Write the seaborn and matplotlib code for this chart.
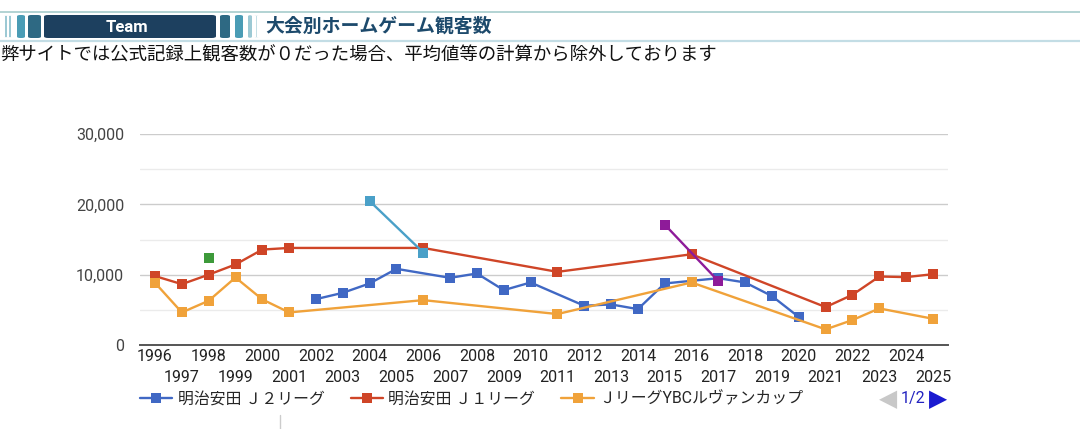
import pandas as pd
import seaborn as sns
from matplotlib import pyplot as plt
from matplotlib.patches import FancyBboxPatch
from matplotlib.lines import Line2D

# 観客数データ
years_j2 = [2002, 2003, 2004, 2005, 2007, 2008, 2009, 2010, 2012, 2013, 2014, 2015, 2017, 2018, 2019, 2020]
att_j2 = [6520, 7420, 8750, 10830, 9550, 10170, 7800, 8890, 5580, 5770, 5100, 8750, 9500, 8890, 6950, 3970]

years_j1 = [1996, 1997, 1998, 1999, 2000, 2001, 2006, 2011, 2016, 2021, 2022, 2023, 2024, 2025]
att_j1 = [9800, 8650, 10000, 11450, 13570, 13800, 13800, 10400, 12900, 5390, 7140, 9740, 9650, 10070]

years_cup = [1996, 1997, 1998, 1999, 2000, 2001, 2006, 2011, 2016, 2021, 2022, 2023, 2025]
att_cup = [8840, 4630, 6290, 9600, 6480, 4630, 6380, 4400, 8890, 2220, 3550, 5200, 3730]

years_green = [1998]
att_green = [12440]

years_cyan = [2004, 2006]
att_cyan = [20470, 13150]

years_purple = [2015, 2017]
att_purple = [17120, 9080]

labels = ['明治安田 Ｊ２リーグ', '明治安田 Ｊ１リーグ', 'ＪリーグYBCルヴァンカップ']
title = '大会別ホームゲーム観客数'
note = '弊サイトでは公式記録上観客数が０だった場合、平均値等の計算から除外しております'

W, H = 1080, 429


def fx(x):
    return x / W


def fy(y):
    return 1 - y / H


if __name__ == '__main__':
    sns.set_style('white')
    plt.rcParams['font.family'] = ['Roboto', 'Noto Sans CJK JP', 'DejaVu Sans']

    fig = plt.figure(figsize=(W / 100, H / 100), dpi=100)

    # ヘッダー
    fig.add_artist(Line2D([0, 1], [fy(12), fy(12)], color='#a6cccc', lw=1.2))
    fig.add_artist(Line2D([0, 1], [fy(41), fy(41)], color='#c3dde5', lw=1.6))
    stripes = [(5, 7, '#9cc9d4'), (9, 11, '#9cc9d4'), (17, 25, '#4a9cb5'), (28, 41, '#2e6983'),
               (220, 230, '#2e6983'), (235, 243, '#4a9cb5'), (248, 252, '#9cc9d4'), (256, 257, '#c5dfe5')]
    for x0, x1, c in stripes:
        fig.add_artist(FancyBboxPatch((fx(x0), fy(38)), fx(x1 - x0), (23 / H),
                                      boxstyle='round,pad=0,rounding_size=0.003',
                                      transform=fig.transFigure, fc=c, ec='none'))
    fig.add_artist(FancyBboxPatch((fx(44), fy(38)), fx(172), 23 / H,
                                  boxstyle='round,pad=0,rounding_size=0.004',
                                  transform=fig.transFigure, fc='#1d405f', ec='none'))
    fig.text(fx(127), fy(27), 'Team', color='white', fontsize=12, fontweight='bold',
             ha='center', va='center')
    fig.text(fx(265), fy(26), title, color='#1d4a6c', fontsize=13.6, fontweight='bold',
             ha='left', va='center')
    fig.text(fx(0), fy(56), note, color='#111111', fontsize=13.25, ha='left', va='center')

    # グラフ本体
    ax = fig.add_axes([fx(140), fy(345), fx(948 - 140), (345 - 134) / H])

    lw = 1.7
    ms = 6.5
    sns.lineplot(x=years_j2, y=att_j2, color='#4068c4', marker='s', markersize=ms,
                 markeredgewidth=0, lw=lw, ax=ax, label=labels[0], clip_on=False)
    sns.lineplot(x=years_j1, y=att_j1, color='#cf4527', marker='s', markersize=ms,
                 markeredgewidth=0, lw=lw, ax=ax, label=labels[1], clip_on=False)
    sns.lineplot(x=years_cup, y=att_cup, color='#f0a23a', marker='s', markersize=ms,
                 markeredgewidth=0, lw=lw, ax=ax, label=labels[2], clip_on=False)
    sns.scatterplot(x=years_green, y=att_green, color='#3d9a3a', marker='s', s=ms ** 2,
                    linewidth=0, ax=ax, label='_nolegend_')
    sns.lineplot(x=years_cyan, y=att_cyan, color='#4aa0c8', marker='s', markersize=ms,
                 markeredgewidth=0, lw=lw, ax=ax, label='_nolegend_', clip_on=False)
    sns.lineplot(x=years_purple, y=att_purple, color='#8e1b99', marker='s', markersize=ms,
                 markeredgewidth=0, lw=lw, ax=ax, label='_nolegend_', clip_on=False)

    ax.set_xlim(1995.44, 2025.56)
    ax.set_ylim(0, 30000)
    ax.set_yticks([0, 10000, 20000, 30000])
    ax.set_yticklabels(['0', '10,000', '20,000', '30,000'])
    ax.set_yticks([5000, 15000, 25000], minor=True)
    ax.set_xticks(list(range(1996, 2026, 2)))
    ax.set_xticks(list(range(1997, 2026, 2)), minor=True)
    ax.set_xticklabels([str(y) for y in range(1996, 2026, 2)])
    ax.set_xticklabels([str(y) for y in range(1997, 2026, 2)], minor=True)
    ax.grid(axis='y', which='major', color='#cccccc', lw=1.0)
    ax.grid(axis='y', which='minor', color='#ebebeb', lw=1.0)
    ax.grid(axis='x', visible=False)
    ax.set_axisbelow(True)
    for s in ['top', 'right', 'left']:
        ax.spines[s].set_visible(False)
    ax.spines['bottom'].set_color('#555555')
    ax.spines['bottom'].set_linewidth(1.4)
    ax.tick_params(axis='y', which='both', length=0, pad=11.5, labelsize=11.5, labelcolor='#444444')
    ax.tick_params(axis='x', which='major', length=0, pad=3, labelsize=11.5, labelcolor='#222222')
    ax.tick_params(axis='x', which='minor', length=0, pad=18.2, labelsize=11.5, labelcolor='#222222')
    ax.set_xlabel('')
    ax.set_ylabel('')

    # 凡例
    ax.legend(loc='center left', bbox_to_anchor=(fx(140), fy(399)),
              bbox_transform=fig.transFigure, ncol=3, frameon=False, fontsize=11.4,
              handlelength=2.05, handletextpad=0.33, columnspacing=1.65, borderaxespad=0,
              borderpad=0)

    fig.text(fx(888), fy(399), '◀', color='#c8c8c8', fontsize=17, ha='center', va='center',
             family='DejaVu Sans')
    fig.text(fx(913), fy(399), '1/2', color='#2323c0', fontsize=11.5, ha='center', va='center')
    fig.text(fx(938), fy(399), '▶', color='#1a1ad0', fontsize=17, ha='center', va='center',
             family='DejaVu Sans')
    fig.add_artist(Line2D([fx(280), fx(280)], [fy(415), fy(429)], color='#cccccc', lw=1))

    fig.savefig('out.png', dpi=100)
